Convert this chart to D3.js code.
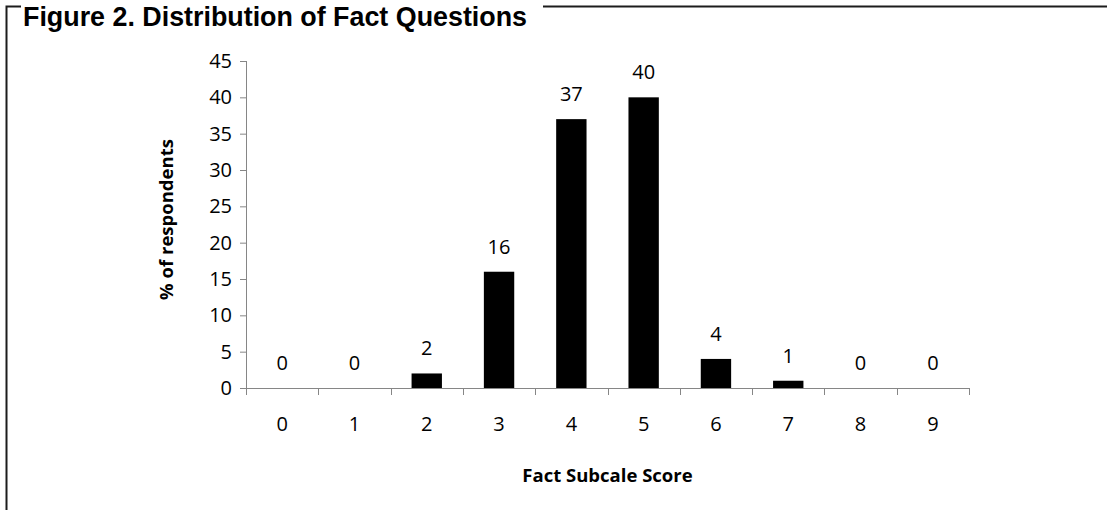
<!DOCTYPE html>
<html>
<head>
<meta charset="utf-8">
<script src="https://cdn.jsdelivr.net/npm/d3@7"></script>
<style>
  html, body { margin: 0; padding: 0; background: #fff; }
  svg { display: block; }
</style>
</head>
<body>
<svg id="chart" width="1107" height="510"></svg>
<script>
// Fact subscale score distribution
const scores = ["0", "1", "2", "3", "4", "5", "6", "7", "8", "9"];
const percents = [0, 0, 2, 16, 37, 40, 4, 1, 0, 0];
const yTicks = [0, 5, 10, 15, 20, 25, 30, 35, 40, 45];

const titleText = "Figure 2.  Distribution of Fact Questions";
const xTitle = "Fact Subcale Score";
const yTitle = "% of respondents";

const svg = d3.select("#chart");
const W = 1107, H = 510;
const numFont = "'Open Sans', 'Noto Sans', sans-serif";
const axisColor = "#868686";
const numSize = 20;
const titleSize = 18.5;

// plot area
const plotL = 246, plotR = 969, plotT = 61, plotB = 388;

const x = d3.scaleBand()
  .domain(scores)
  .range([plotL, plotR])
  .paddingInner(0.58)
  .paddingOuter(0.29);

const y = d3.scaleLinear().domain([0, 45]).range([plotB, plotT]);

// frame around the figure
const frame = svg.append("g").attr("stroke", "#1c1c1c").attr("stroke-width", 2).attr("fill", "none");
frame.append("path").attr("d", `M6.5,${H} V6.5 H21`);
frame.append("path").attr("d", `M543,6.5 H${W}`);

// figure title
svg.append("text")
  .attr("x", 23)
  .attr("y", 26)
  .attr("font-family", "'Liberation Sans', Arial, sans-serif")
  .attr("font-weight", "bold")
  .attr("font-size", 28)
  .attr("fill", "#000")
  .attr("textLength", 504)
  .attr("lengthAdjust", "spacingAndGlyphs")
  .text(titleText);

// y axis
const yAxis = d3.axisLeft(y).tickValues(yTicks).tickSize(6).tickPadding(8);
const gy = svg.append("g").attr("transform", `translate(${plotL},0)`).call(yAxis);
gy.select(".domain").attr("stroke", axisColor).attr("d", `M0.5,${plotT} V${plotB}`);
gy.selectAll(".tick line").attr("stroke", axisColor).attr("x1", 0.5);
gy.selectAll(".tick text")
  .attr("font-family", numFont)
  .attr("font-size", numSize)
  .attr("fill", "#000");

// x axis with ticks on category boundaries
const step = x.step();
const boundaries = d3.range(scores.length + 1).map(i => plotL + i * step);
const gx = svg.append("g");
gx.append("line")
  .attr("x1", plotL - 6).attr("x2", plotR)
  .attr("y1", plotB + 0.5).attr("y2", plotB + 0.5)
  .attr("stroke", axisColor);
gx.selectAll("line.tk").data(boundaries).join("line")
  .attr("class", "tk")
  .attr("x1", d => Math.round(d) + 0.5).attr("x2", d => Math.round(d) + 0.5)
  .attr("y1", plotB).attr("y2", plotB + 7)
  .attr("stroke", axisColor);
gx.selectAll("text").data(scores).join("text")
  .attr("x", d => x(d) + x.bandwidth() / 2)
  .attr("y", 431)
  .attr("text-anchor", "middle")
  .attr("font-family", numFont)
  .attr("font-size", numSize)
  .attr("fill", "#000")
  .text(d => d);

// bars
svg.append("g").selectAll("rect").data(percents).join("rect")
  .attr("x", (d, i) => x(scores[i]))
  .attr("width", x.bandwidth())
  .attr("y", d => y(d))
  .attr("height", d => y(0) - y(d))
  .attr("fill", "#000");

// value labels
svg.append("g").selectAll("text").data(percents).join("text")
  .attr("x", (d, i) => x(scores[i]) + x.bandwidth() / 2)
  .attr("y", d => y(d) - 18)
  .attr("text-anchor", "middle")
  .attr("font-family", numFont)
  .attr("font-size", numSize)
  .attr("fill", "#000")
  .text(d => d);

// axis titles
svg.append("text")
  .attr("x", (plotL + plotR) / 2)
  .attr("y", 482)
  .attr("text-anchor", "middle")
  .attr("font-family", numFont)
  .attr("font-weight", "bold")
  .attr("font-size", titleSize)
  .attr("fill", "#000")
  .text(xTitle);

svg.append("text")
  .attr("transform", `translate(173,${(plotT + plotB) / 2 - 5}) rotate(-90)`)
  .attr("text-anchor", "middle")
  .attr("font-family", numFont)
  .attr("font-weight", "bold")
  .attr("font-size", titleSize)
  .attr("fill", "#000")
  .text(yTitle);
</script>
</body>
</html>
